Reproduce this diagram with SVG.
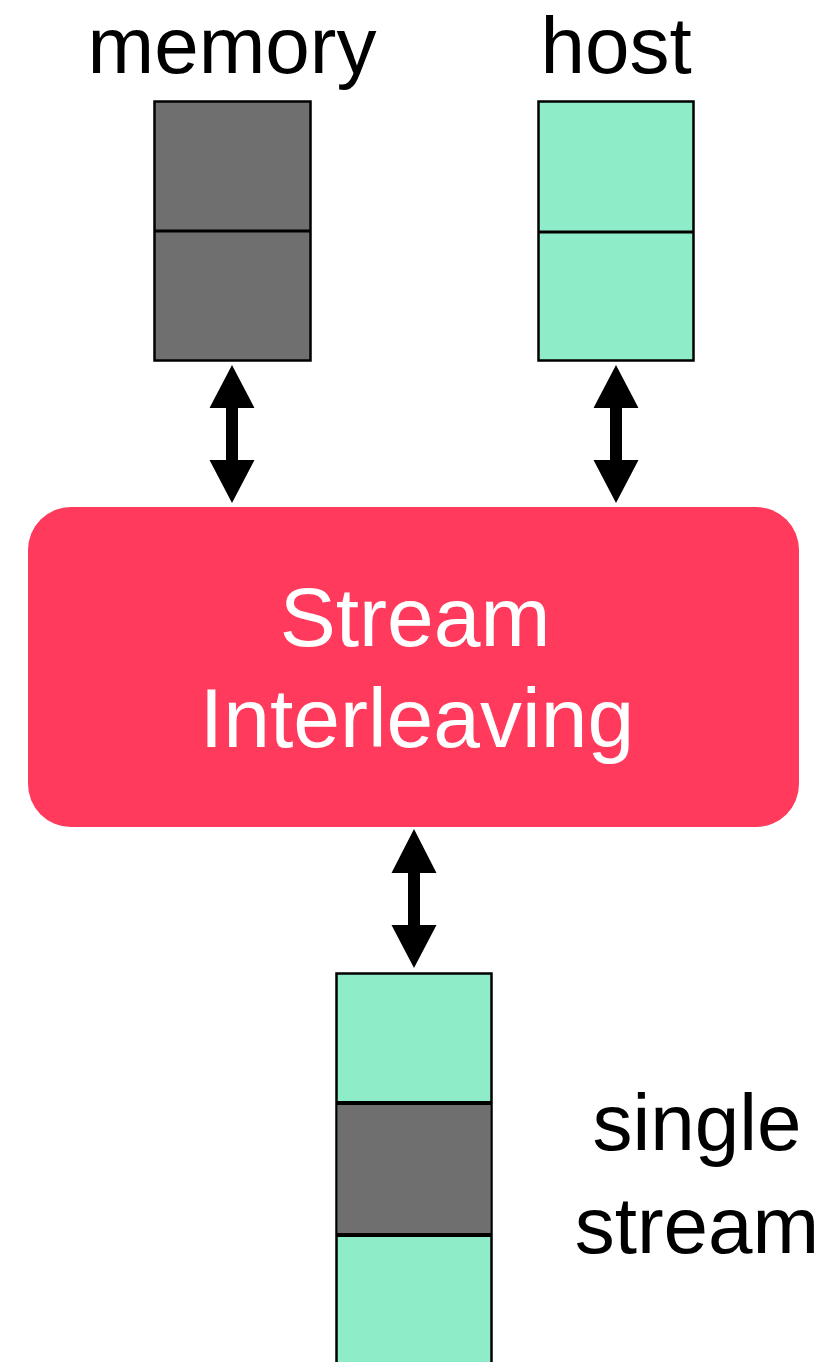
<svg xmlns="http://www.w3.org/2000/svg" width="840" height="1362" viewBox="0 0 840 1362">
  <style>
    .label { font-family: "Liberation Sans", Arial, Helvetica, sans-serif; fill: #000; text-anchor: middle; }
    .title { font-family: "Liberation Sans", Arial, Helvetica, sans-serif; fill: #fff; text-anchor: middle; }
    .cell { stroke: #000; stroke-width: 2.5; }
    .div { stroke: #000; }
    .gray { fill: #6f6f6f; }
    .mint { fill: #8fecc8; }
    .arrow { fill: #000; }
  </style>
  <rect width="840" height="1362" fill="#fff"/>

  <!-- memory queue -->
  <g id="memory">
    <text class="label" x="232" y="72.5" font-size="80">memory</text>
    <rect class="cell gray" x="154.5" y="101.5" width="156" height="259"/>
    <line class="div" x1="154.5" y1="231" x2="310.5" y2="231" stroke-width="3"/>
  </g>

  <!-- host queue -->
  <g id="host">
    <text class="label" x="616" y="72.5" font-size="80">host</text>
    <rect class="cell mint" x="538.5" y="101.5" width="155" height="259"/>
    <line class="div" x1="538.5" y1="232" x2="693.5" y2="232" stroke-width="3"/>
  </g>

  <!-- interleaver -->
  <g id="interleaver">
    <rect x="28" y="507" width="771" height="320" rx="43" ry="43" fill="#ff3a5c"/>
    <text class="title" x="415" y="646" font-size="84">Stream</text>
    <text class="title" x="417" y="747" font-size="84">Interleaving</text>
  </g>

  <!-- combined stream -->
  <g id="stream">
    <rect class="cell mint" x="336.5" y="973.5" width="155" height="400"/>
    <rect class="gray" x="337.75" y="1103" width="152.5" height="132"/>
    <line class="div" x1="336.5" y1="1103" x2="491.5" y2="1103" stroke-width="4"/>
    <line class="div" x1="336.5" y1="1235" x2="491.5" y2="1235" stroke-width="4"/>
    <text class="label" x="697" y="1150" font-size="80">single</text>
    <text class="label" x="697" y="1253" font-size="80">stream</text>
  </g>

  <!-- double-headed connectors -->
  <g id="connectors">
    <polygon class="arrow" points="232,365 254.5,408 238,408 238,460 254.5,460 232,503 209.5,460 226,460 226,408 209.5,408"/>
    <polygon class="arrow" points="616,365 638.5,408 622,408 622,460 638.5,460 616,503 593.5,460 610,460 610,408 593.5,408"/>
    <polygon class="arrow" points="414,829 436.5,873 420,873 420,925 436.5,925 414,968 391.5,925 408,925 408,873 391.5,873"/>
  </g>
</svg>
